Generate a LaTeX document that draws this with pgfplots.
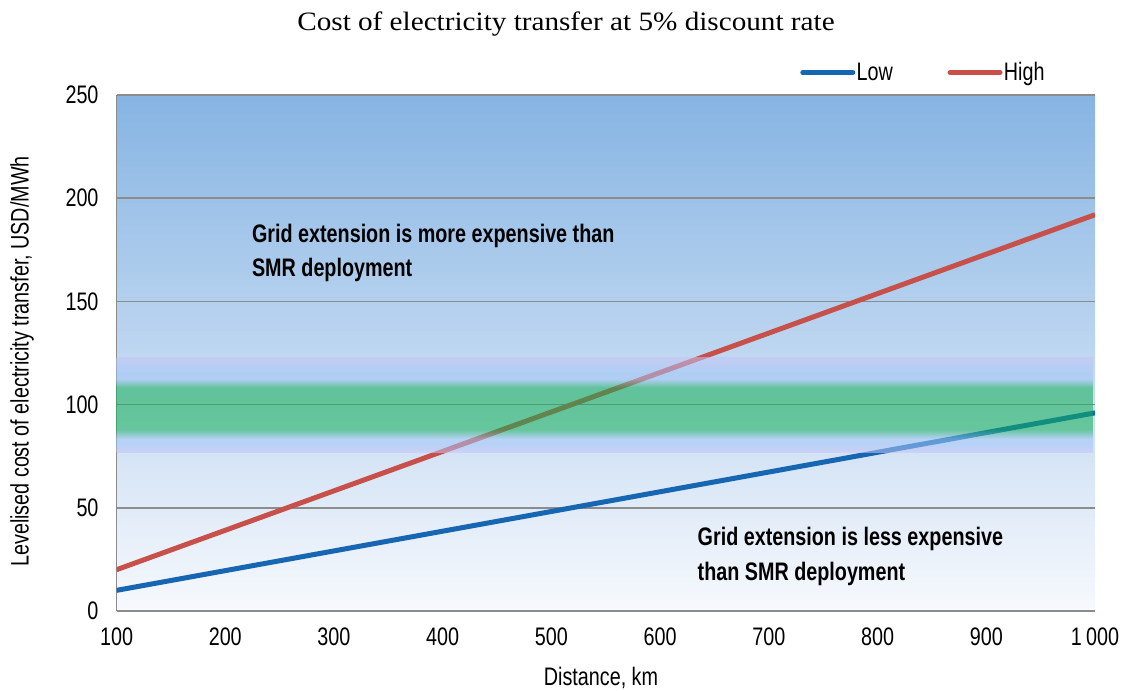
\documentclass[border=0pt]{standalone}
\usepackage{pgfplots}
\pgfplotsset{compat=1.18}
\usepackage{fontspec}
\setmainfont{Liberation Sans}[FakeStretch=0.78]
\newfontfamily\titlefont{Liberation Serif}[FakeStretch=1.1]
\definecolor{bgtop}{RGB}{134,180,227}
\definecolor{bgbot}{RGB}{247,249,253}
\definecolor{bandL}{RGB}{199,195,247}
\definecolor{bandB}{RGB}{161,197,247}
\definecolor{bandG}{RGB}{15,175,84}
\definecolor{lowblue}{RGB}{22,102,178}
\definecolor{highred}{RGB}{200,80,74}
\definecolor{gridgray}{RGB}{140,140,140}
\pgfdeclareverticalshading{band}{100bp}{color(0bp)=(bandL); color(25bp)=(bandL); color(29bp)=(bandB); color(32bp)=(bandB); color(37bp)=(bandG); color(59bp)=(bandG); color(63.5bp)=(bandB); color(67bp)=(bandB); color(75bp)=(bandL); color(100bp)=(bandL)}
\begin{document}
\begin{tikzpicture}
\useasboundingbox (0,0) rectangle (841.5pt,517.5pt);
\begin{axis}[
  at={(87.4pt,59.25pt)}, anchor=south west,
  scale only axis, width=733.9pt, height=387pt,
  xmin=100, xmax=1000, ymin=0, ymax=250,
  xtick={100,200,300,400,500,600,700,800,900,1000},
  xticklabels={100,200,300,400,500,600,700,800,900,1\,000},
  ytick={0,50,100,150,200,250},
  yticklabels={0,50,100,150,200,250},
  major tick length=0pt,
  ymajorgrids, grid style={gridgray, line width=1.2pt},
  axis x line*=bottom, axis y line*=left,
  axis line style={gridgray, line width=1.2pt, -},
  every outer x axis line/.append style={-},
  every outer y axis line/.append style={-},
  axis background/.style={shade, top color=bgtop, bottom color=bgbot},
  tick label style={font=\fontsize{19}{22}\selectfont, black},
  xticklabel style={yshift=-9.4pt},
  yticklabel style={xshift=-10pt},
  legend columns=2,
  legend image code/.code={\draw[#1, line cap=round] (1.9pt,0pt) -- (39.4pt,0pt);},
  legend style={draw=none, fill=none, inner xsep=0pt, inner ysep=0pt,
    at={(0.6985,1.0436)}, anchor=west, font=\fontsize{19}{22}\selectfont,
    nodes={inner sep=1pt},
    /tikz/every even column/.append style={column sep=40pt}},
]
\addplot[lowblue, line width=3.75pt] coordinates {(100,10) (1000,96)};
\addlegendentry{Low}
\addplot[highred, line width=3.75pt] coordinates {(100,20) (1000,192)};
\addlegendentry{High}
\addplot[draw=none, shade, shading=band, opacity=0.55, forget plot] coordinates {(100,77) (998,77) (998,123) (100,123)} -- cycle;
\node[anchor=base west, inner sep=0pt, font=\bfseries\fontsize{19}{22}\selectfont] at (axis cs:224.4,178.6) {Grid extension is more expensive than};
\node[anchor=base west, inner sep=0pt, font=\bfseries\fontsize{19}{22}\selectfont] at (axis cs:224.4,162.0) {SMR deployment};
\node[anchor=base west, inner sep=0pt, font=\bfseries\fontsize{19}{22}\selectfont] at (axis cs:634.3,31.5) {Grid extension is less expensive};
\node[anchor=base west, inner sep=0pt, font=\bfseries\fontsize{19}{22}\selectfont] at (axis cs:634.3,15.0) {than SMR deployment};
\end{axis}
\node[font=\titlefont\fontsize{19.9}{24}\selectfont] at (424.5pt,499.5pt) {Cost of electricity transfer at 5\% discount rate};
\node[rotate=90, font=\fontsize{19}{22}\selectfont] at (16.5pt,246.4pt) {Levelised cost of electricity transfer, USD/MWh};
\node[anchor=base, font=\fontsize{19}{22}\selectfont] at (450.75pt,3.75pt) {Distance, km};
\end{tikzpicture}
\end{document}
